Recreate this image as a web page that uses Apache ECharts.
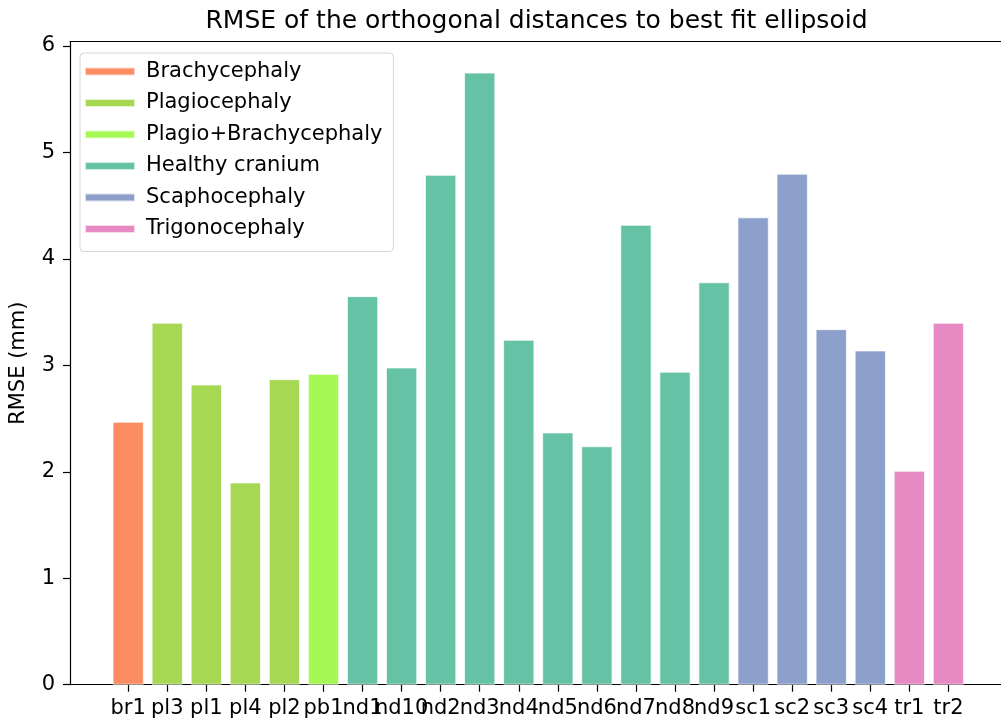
<!DOCTYPE html>
<html>
<head>
<meta charset="utf-8">
<script src="https://cdn.jsdelivr.net/npm/echarts@6/dist/echarts.min.js"></script>
<style>html,body{margin:0;padding:0;background:#fff;overflow:hidden}#c{width:1012px;height:724px}</style>
</head>
<body>
<div id="c"></div>
<script>
var categories = ['br1','pl3','pl1','pl4','pl2','pb1','nd1','nd10','nd2','nd3','nd4','nd5','nd6','nd7','nd8','nd9','sc1','sc2','sc3','sc4','tr1','tr2'];
var values = [2.47,3.40,2.82,1.90,2.87,2.92,3.65,2.98,4.79,5.75,3.24,2.37,2.24,4.32,2.94,3.78,4.39,4.80,3.34,3.14,2.01,3.40];
var groupOf = [0,1,1,1,1,2,3,3,3,3,3,3,3,3,3,3,4,4,4,4,5,5];
var groupNames = ['Brachycephaly','Plagiocephaly','Plagio+Brachycephaly','Healthy cranium','Scaphocephaly','Trigonocephaly'];
var groupColors = ['#fc8d62','#a6d854','#a6f953','#66c2a5','#8da0cb','#e78ac3'];
var yTicks = [0,1,2,3,4,5,6];

var FONT = 'DejaVu Sans';
var xIdx = categories.map(function(c,i){return i;});
var series = groupNames.map(function(name,g){
  var d = [];
  values.forEach(function(v,i){ if(groupOf[i]===g) d.push([i,v]); });
  return {
    name: name, type: 'bar', data: d, barWidth: 31.3, barGap: '-100%',
    itemStyle: {color: groupColors[g], borderColor: 'rgba(255,255,255,0.7)', borderWidth: 1},
    emphasis: {disabled: true}
  };
});

var chart = echarts.init(document.getElementById('c'), null, {renderer:'canvas'});
chart.setOption({
  animation: false,
  backgroundColor: '#fff',
  textStyle: {fontFamily: FONT},
  title: {
    text: 'RMSE of the orthogonal distances to best fit ellipsoid',
    left: 531.5, top: 4, textAlign: 'center',
    textStyle: {fontFamily: FONT, fontSize: 25, fontWeight: 'normal', color: '#000'}
  },
  grid: {left: 69, top: 41.7, width: 937.6, height: 643},
  legend: {
    orient: 'vertical', left: 80, top: 53,
    data: groupNames,
    icon: 'rect', itemWidth: 50, itemHeight: 8, itemGap: 10.5,
    padding: [8, 11, 12, 4],
    backgroundColor: '#fff', borderColor: '#d6d6d6', borderWidth: 1, borderRadius: 4,
    textStyle: {fontFamily: FONT, fontSize: 21, color: '#000', padding: [0,0,0,6]}
  },
  xAxis: [{
    type: 'value', min: -1.49, max: 22.49,
    splitLine: {show: false},
    axisLine: {show: true, onZero: false, lineStyle: {color: '#000', width: 1.2}},
    axisTick: {show: true, length: 7, customValues: xIdx, lineStyle: {color: '#000', width: 1.2}},
    axisLabel: {customValues: xIdx, margin: 13, fontFamily: FONT, fontSize: 21, color: '#000',
      formatter: function(v){ return categories[Math.round(v)] || ''; }}
  }, {
    type: 'value', position: 'top', min: -1.49, max: 22.49,
    splitLine: {show: false},
    axisLine: {show: true, onZero: false, lineStyle: {color: '#000', width: 1.2}},
    axisTick: {show: false}, axisLabel: {show: false}
  }],
  yAxis: {
    type: 'value', min: 0, max: 6.04,
    name: 'RMSE (mm)', nameLocation: 'middle', nameGap: 41,
    nameTextStyle: {fontFamily: FONT, fontSize: 21, color: '#000'},
    splitLine: {show: false},
    axisLine: {show: true, onZero: false, lineStyle: {color: '#000', width: 1.2}},
    axisTick: {show: true, length: 7, customValues: yTicks, lineStyle: {color: '#000', width: 1.2}},
    axisLabel: {customValues: yTicks, margin: 15, fontFamily: FONT, fontSize: 21, color: '#000'}
  },
  series: series
});
</script>
</body>
</html>
